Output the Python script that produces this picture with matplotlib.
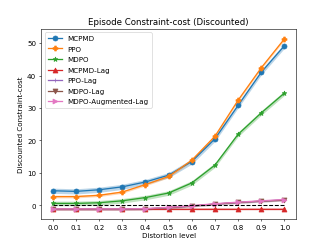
import matplotlib
matplotlib.use("Agg")
import matplotlib.pyplot as plt
import numpy as np

x = [0.0, 0.1, 0.2, 0.3, 0.4, 0.5, 0.6, 0.7, 0.8, 0.9, 1.0]
mcpmd = [4.5, 4.3, 4.8, 5.7, 7.2, 9.3, 13.5, 20.5, 30.8, 41.0, 49.2]
ppo = [2.7, 2.7, 3.1, 4.1, 6.4, 8.9, 13.9, 21.3, 32.4, 42.4, 51.3]
mdpo = [0.6, 0.6, 0.8, 1.4, 2.4, 3.8, 6.9, 12.4, 21.9, 28.5, 34.6]
mcpmd_lag = [-1.1, -1.1, -1.1, -1.1, -1.1, -1.1, -1.1, -1.1, -1.1, -1.1, -1.1]
ppo_lag = [-1.2, -1.2, -1.2, -1.2, -1.1, -0.7, -0.2, 0.4, 0.9, 1.3, 1.7]
mdpo_lag = [-1.2, -1.2, -1.2, -1.2, -1.1, -0.7, -0.2, 0.4, 0.9, 1.3, 1.6]
mdpo_aug = [-1.1, -1.1, -1.1, -1.1, -1.0, -0.6, -0.1, 0.5, 1.0, 1.4, 1.8]
stds = [0.8, 0.4, 0.7, 0.3, 0.3, 0.3, 0.1]

series = [
    ("MCPMD", mcpmd, "o", "#1f77b4"),
    ("PPO", ppo, "P", "#ff7f0e"),
    ("MDPO", mdpo, "*", "#2ca02c"),
    ("MCPMD-Lag", mcpmd_lag, "^", "#d62728"),
    ("PPO-Lag", ppo_lag, "+", "#9467bd"),
    ("MDPO-Lag", mdpo_lag, "v", "#8c564b"),
    ("MDPO-Augmented-Lag", mdpo_aug, ">", "#e377c2"),
]

fig, ax = plt.subplots(figsize=(6.4, 4.8), dpi=51.4)
xa = np.array(x)
for (name, ys, m, c), s in zip(series, stds):
    ys = np.array(ys)
    ax.plot(xa, ys, marker=m, color=c, label=name, linewidth=1.8, markersize=7)
    ax.fill_between(xa, ys - s, ys + s, color=c, alpha=0.3, linewidth=0)
ax.plot(xa, np.zeros_like(xa), "k--", linewidth=1.5)
ax.set_xticks(x)
ax.set_title("Episode Constraint-cost (Discounted)")
ax.set_xlabel("Distortion level")
ax.set_ylabel("Discounted Constraint-cost")
ax.legend(loc="upper left", labelspacing=0.64)
fig.savefig("out.png", dpi=51.4)
